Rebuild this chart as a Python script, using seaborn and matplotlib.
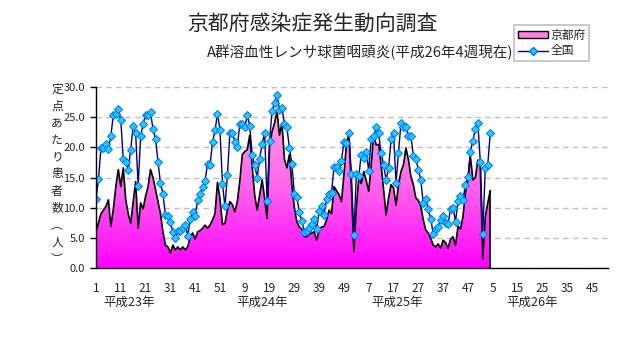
import numpy as np
import pandas as pd
import matplotlib
matplotlib.use("Agg")
import matplotlib.pyplot as plt
import seaborn as sns
from matplotlib.colors import LinearSegmentedColormap
from matplotlib.patches import Patch
from matplotlib.lines import Line2D

# ---------------- data ----------------
title = "京都府感染症発生動向調査"
subtitle = "A群溶血性レンサ球菌咽頭炎(平成26年4週現在)"
ylabel_chars = ["定", "点", "あ", "た", "り", "患", "者", "数", "︵", "人", "︶"]
year_labels = ["平成23年", "平成24年", "平成25年", "平成26年"]
series_names = ["京都府", "全国"]
weeks_per_year = [52, 52, 52, 52]
tick_labels = ["1", "11", "21", "31", "41", "51",
               "9", "19", "29", "39", "49",
               "7", "17", "27", "37", "47",
               "5", "15", "25", "35", "45"]

kyoto_2011 = [6.0, 7.5, 9.0, 9.6, 10.2, 11.3, 6.9, 9.8, 13.5, 16.3,
              13.5, 16.6, 11.3, 9.0, 7.4, 11.0, 14.3, 6.6, 10.8, 9.8,
              11.9, 13.5, 16.3, 15.0, 13.0, 11.0, 9.0, 6.0, 3.8, 3.5,
              2.5, 3.8, 3.0, 3.5, 3.0, 3.5, 3.0, 3.5, 5.2, 5.8,
              4.8, 6.0, 6.2, 6.6, 7.1, 6.6, 7.1, 8.0, 9.0, 14.2,
              11.5, 7.2]
kyoto_2012 = [7.4, 9.6, 11.0, 10.5, 9.3, 11.0, 14.4, 18.8, 19.3, 19.6,
              22.0, 16.8, 12.1, 9.6, 12.1, 14.6, 11.6, 8.2, 20.1, 22.6,
              24.0, 26.0, 22.0, 24.0, 18.0, 16.6, 18.8, 13.8, 10.0, 7.7,
              6.8, 6.4, 5.2, 5.2, 5.6, 5.8, 6.0, 4.6, 6.4, 6.8,
              6.9, 8.0, 9.6, 9.0, 13.5, 12.8, 12.2, 11.0, 15.5, 20.5,
              22.2, 13.5]
kyoto_2013 = [2.7, 10.0, 15.0, 14.0, 16.0, 14.5, 12.7, 17.1, 22.1, 20.4,
              20.5, 17.0, 13.0, 8.8, 11.6, 13.8, 13.3, 10.4, 13.8, 16.0,
              17.1, 19.9, 18.0, 15.2, 13.8, 11.6, 11.2, 10.2, 8.0, 6.3,
              5.8, 4.9, 3.8, 3.5, 4.0, 3.3, 4.6, 4.2, 3.3, 4.8,
              5.2, 3.8, 6.9, 6.5, 8.5, 12.5, 14.5, 18.5, 14.6, 15.0,
              17.9, 16.8]
kyoto_2014 = [1.5, 8.5, 10.8, 12.8]

zenkoku_2011 = [11.4, 14.7, 19.9, 19.9, 20.6, 19.7, 21.9, 25.4, 25.5, 26.4,
                24.5, 18.0, 17.5, 16.3, 19.6, 23.6, 22.3, 13.6, 21.8, 23.9,
                25.4, 25.4, 25.8, 23.0, 21.4, 17.6, 14.1, 12.3, 8.8, 8.7,
                7.6, 6.0, 5.0, 6.2, 6.2, 6.7, 7.2, 5.3, 8.1, 9.2,
                8.7, 11.2, 12.2, 13.5, 14.5, 17.3, 17.0, 20.9, 22.8, 25.6,
                22.9, 14.0]
zenkoku_2012 = [10.2, 15.4, 22.4, 22.4, 20.9, 20.1, 23.9, 23.8, 23.3, 25.3,
                23.6, 18.7, 17.1, 15.0, 18.1, 20.6, 22.3, 11.1, 21.1, 26.0,
                27.4, 28.7, 26.2, 26.6, 23.8, 23.3, 19.9, 17.3, 12.3, 11.7,
                9.3, 7.8, 5.9, 6.2, 6.7, 7.3, 8.2, 6.4, 9.5, 10.3,
                8.8, 11.5, 12.3, 12.5, 16.8, 16.8, 16.0, 17.8, 20.9, 20.7,
                22.3, 15.5]
zenkoku_2013 = [5.4, 15.5, 15.3, 18.8, 18.3, 19.3, 16.1, 21.4, 21.8, 23.3,
                22.3, 19.0, 17.1, 14.6, 16.5, 21.3, 22.3, 14.1, 19.1, 24.1,
                23.4, 23.3, 21.8, 21.9, 18.6, 18.1, 16.3, 14.6, 10.7, 11.5,
                9.7, 8.2, 5.7, 6.5, 6.8, 8.0, 8.7, 7.5, 7.3, 9.8,
                10.0, 7.7, 11.1, 11.9, 11.3, 13.8, 15.1, 19.3, 21.1, 23.1,
                24.1, 17.6]
zenkoku_2014 = [5.7, 16.5, 17.1, 22.3]

kyoto = kyoto_2011 + kyoto_2012 + kyoto_2013 + kyoto_2014
zenkoku = zenkoku_2011 + zenkoku_2012 + zenkoku_2013 + zenkoku_2014
week_idx = np.arange(1, len(kyoto) + 1)
df = pd.DataFrame({"week": week_idx, "kyoto": kyoto, "zenkoku": zenkoku})

total_weeks = sum(weeks_per_year)

# ---------------- style ----------------
sns.set_theme(style="white")
plt.rcParams["font.family"] = ["Noto Sans CJK JP", "DejaVu Sans"]

W, H = 632, 348
fig = plt.figure(figsize=(W / 100, H / 100), dpi=100)
fig.patch.set_facecolor("white")
ax_l, ax_r, ax_t, ax_b = 96, 608, 87, 268
ax = fig.add_axes([ax_l / W, 1 - ax_b / H, (ax_r - ax_l) / W, (ax_b - ax_t) / H])
ax.set_facecolor("white")

# gradient-filled area for Kyoto
cmap = LinearSegmentedColormap.from_list("pinkgrad", ["#FF00FF", "#FF62EC", "#FFA2E8"])
poly = ax.fill_between(df["week"], df["kyoto"], 0, facecolor="none", edgecolor="none", zorder=1)
grad = np.linspace(0, 1, 256).reshape(-1, 1)
im = ax.imshow(grad, cmap=cmap, origin="lower", aspect="auto",
               extent=[1, len(kyoto), 0, max(kyoto)], zorder=1, interpolation="bilinear")
im.set_clip_path(poly.get_paths()[0], transform=ax.transData)

sns.lineplot(data=df, x="week", y="kyoto", ax=ax, color="black", linewidth=1.2,
             errorbar=None, legend=False, zorder=3)
ax.plot([df["week"].iloc[-1]] * 2, [df["kyoto"].iloc[-1], 0], color="black", lw=1.2, zorder=3)

sns.lineplot(data=df, x="week", y="zenkoku", ax=ax, color="#000080", linewidth=1.0,
             marker="D", markersize=3.8, markerfacecolor="#22CCFF",
             markeredgecolor="#0070FF", markeredgewidth=0.7,
             errorbar=None, legend=False, zorder=4)

# axes
ax.set_xlim(1, total_weeks - 0.5)
ax.set_ylim(0, 30)
ax.set_xlabel("")
ax.set_ylabel("")
ax.set_yticks(np.arange(0, 31, 5))
ax.set_yticklabels([f"{v:.1f}" for v in np.arange(0, 31, 5)], fontsize=8)
ax.yaxis.grid(True, color="#C0C0C0", linestyle=(0, (4, 3)), linewidth=1.0)
ax.xaxis.grid(False)
ax.set_axisbelow(True)
for s in ["top", "right"]:
    ax.spines[s].set_visible(False)
for s in ["left", "bottom"]:
    ax.spines[s].set_color("black")
    ax.spines[s].set_linewidth(1.0)
    ax.spines[s].set_zorder(5)

major_pos = np.arange(1, total_weeks, 10)
minor_pos = np.arange(6, total_weeks, 10)
ax.set_xticks(major_pos)
ax.set_xticklabels(tick_labels, fontsize=8.5)
ax.set_xticks(minor_pos, minor=True)
ax.tick_params(axis="x", which="both", direction="in", length=4, width=1, color="black", pad=10)
ax.tick_params(axis="y", which="major", direction="out", length=4, width=1, color="black", pad=4, left=True)

# year labels
year_pos = [14.5, 68, 122.5, 177]
for xp, lab in zip(year_pos, year_labels):
    ax.text(xp, -(302 - ax_b) / (ax_b - ax_t), lab, transform=ax.get_xaxis_transform(),
            ha="center", va="center", fontsize=9)

# y label (vertical, stacked)
for k, ch in enumerate(ylabel_chars):
    fig.text(57 / W, 1 - (89 + k * 17) / H, ch, ha="center", va="center", fontsize=8.5)

# titles
fig.text(312 / W, 1 - 24 / H, title, ha="center", va="center", fontsize=15)
fig.text(207 / W, 1 - 52 / H, subtitle, ha="left", va="center", fontsize=10.5)

# legend
handles = [Patch(facecolor="#FF80E0", edgecolor="black", linewidth=1.0),
           Line2D([], [], color="#000080", lw=1.0, marker="D", markersize=3.8,
                  markerfacecolor="#22CCFF", markeredgecolor="#0070FF")]
leg = fig.legend(handles, series_names, loc="upper left",
                 bbox_to_anchor=(514 / W, 1 - 25 / H), frameon=True, fancybox=False,
                 edgecolor="#C0C0C0", facecolor="white", framealpha=1, fontsize=8.5,
                 handlelength=2.6, handleheight=0.6, borderpad=0.3, labelspacing=0.25,
                 handletextpad=0.2, borderaxespad=0)
leg.get_frame().set_linewidth(1.2)
leg.set_zorder(10)

fig.savefig("out.png", dpi=100)
